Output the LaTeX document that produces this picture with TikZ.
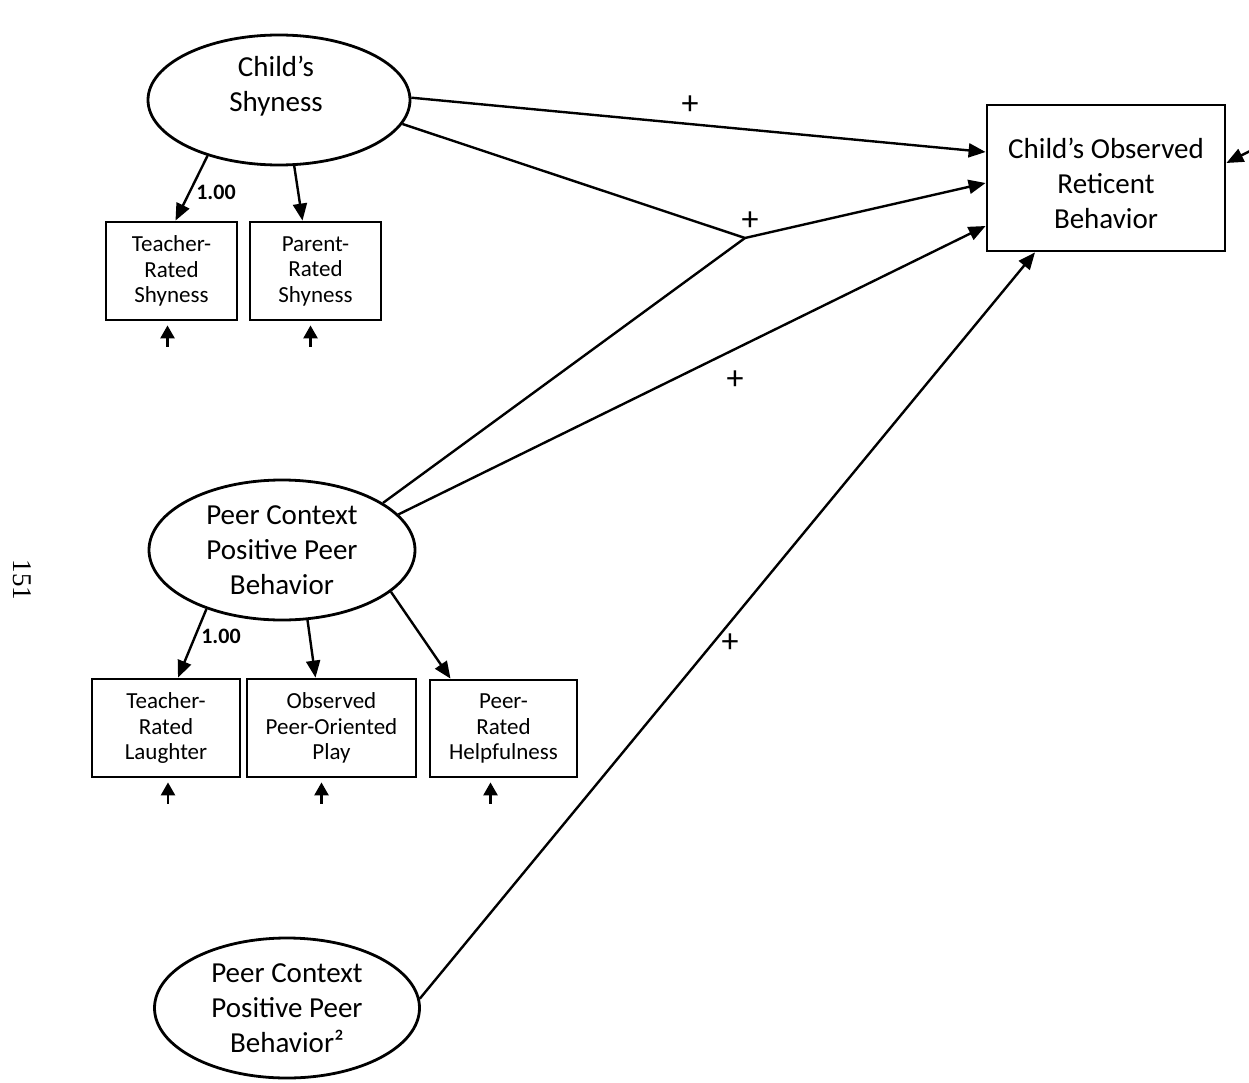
\documentclass[tikz,border=0pt]{standalone}
\usepackage{fontspec}
\setmainfont{Carlito}
\newfontfamily\numfont{Liberation Serif}
\usetikzlibrary{shapes.geometric,arrows.meta}
\begin{document}
\begin{tikzpicture}[x=1pt,y=-1pt,
  latent/.style={ellipse,draw,line width=2.8pt,inner sep=0pt},
  obsbox/.style={rectangle,draw,line width=2.8pt,inner sep=0pt,align=center,font=\fontsize{23}{25.5}\selectfont},
  bigtext/.style={align=center,font=\fontsize{29}{35}\selectfont},
  path/.style={line width=2.4pt,-{Triangle[length=17pt,width=14pt]}},
  plain/.style={line width=2.4pt},
  lbl/.style={font=\fontsize{34}{34}\selectfont},
  wlbl/.style={font=\bfseries\fontsize{22}{24}\selectfont},
  resid/.style={line width=2.6pt,{Triangle[length=13pt,width=14pt]}-}]
\useasboundingbox[fill=white] (0,0) rectangle (1249,1083);

% page number
\node[rotate=-90,font=\numfont\fontsize{27}{28}\selectfont] (pg) at (22,580) {151};

% latent variables
\node[latent,minimum width=262pt,minimum height=130pt] (shy) at (279,100) {};
\node[bigtext] (shytxt) at (276,86) {Child’s\\Shyness};
\node[latent,minimum width=266pt,minimum height=140pt,bigtext] (peer) at (282,550) {Peer Context\\Positive Peer\\Behavior};
\node[latent,minimum width=265pt,minimum height=140pt,bigtext] (peer2) at (287,1008) {Peer Context\\Positive Peer\\Behavior²};

% outcome
\node[rectangle,draw,line width=2.8pt,minimum width=238pt,minimum height=146pt] (out) at (1106,178) {};
\node[bigtext] (outtxt) at (1106,183) {Child’s Observed\\Reticent\\Behavior};

% indicators
\node[obsbox,minimum width=131pt,minimum height=98pt] (tshy) at (171.5,271) {Teacher-\\Rated\\Shyness};
\node[obsbox,minimum width=131pt,minimum height=98pt] (pshy) at (315.5,271) {Parent-\\Rated\\Shyness};
\node[obsbox,minimum width=148pt,minimum height=98pt] (tlau) at (166,728) {Teacher-\\Rated\\Laughter};
\node[obsbox,minimum width=169pt,minimum height=98pt] (opop) at (331.5,728) {Observed\\Peer-Oriented\\Play};
\node[obsbox,minimum width=147pt,minimum height=97pt] (phel) at (503.5,728.5) {Peer-\\Rated\\Helpfulness};

% loadings
\draw[path] (shy.218) -- ([xshift=4pt]tshy.north);
\draw[path] (shy.-77) -- ([xshift=-13pt]pshy.north);
\node[wlbl] (w1) at (216,192) {1.00};
\draw[path] (peer.218) -- ([xshift=12pt]tlau.north);
\draw[path] (peer.-70) -- ([xshift=-16pt]opop.north);
\draw[path] (peer.-21) -- ([xshift=-53pt]phel.north);
\node[wlbl] (w2) at (221,636) {1.00};

% residuals
\draw[resid] ([xshift=-4pt,yshift=-4pt]tshy.south) -- ++(0pt,-22pt);
\draw[resid] ([xshift=-5pt,yshift=-4pt]pshy.south) -- ++(0pt,-22pt);
\draw[resid] ([xshift=2pt,yshift=-4pt]tlau.south) -- ++(0pt,-22pt);
\draw[resid] ([xshift=-10pt,yshift=-4pt]opop.south) -- ++(0pt,-22pt);
\draw[resid] ([xshift=-13pt,yshift=-4pt]phel.south) -- ++(0pt,-22pt);

% structural paths
\coordinate (J) at (745,238);
\coordinate (rtail) at (1252,150);
\draw[path] (shy.1) -- ([yshift=26pt]out.west);
\draw[plain] (shy.-11) -- (J);
\draw[plain] (peer.25) -- (J);
\draw[path] (J) -- ([yshift=-5pt]out.west);
\draw[path] (peer.17) -- ([yshift=-48pt]out.west);
\draw[path] (peer2.4) -- ([xshift=-71pt]out.south);
\draw[path] (rtail) -- ([yshift=15pt]out.east);

% signs
\node[lbl] (s1) at (690,105) {+};
\node[lbl] (s2) at (750,221) {+};
\node[lbl] (s3) at (735,380) {+};
\node[lbl] (s4) at (730,643) {+};
\end{tikzpicture}
\end{document}
